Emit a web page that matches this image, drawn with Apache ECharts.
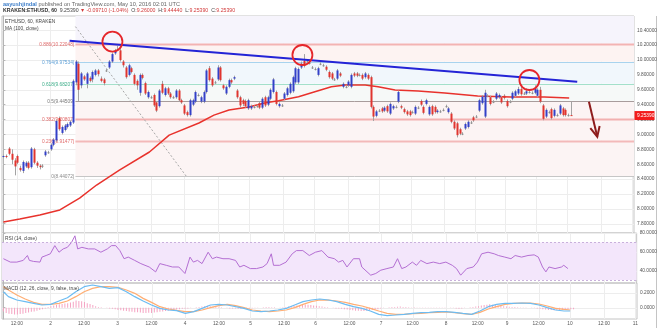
<!DOCTYPE html>
<html>
<head>
<meta charset="utf-8">
<script src="https://cdn.jsdelivr.net/npm/echarts@6/dist/echarts.min.js"></script>
<style>
  html, body { margin: 0; padding: 0; background: #fff; }
  #chart { width: 660px; height: 328px; }
</style>
</head>
<body>
<div id="chart"></div>
<script>
// ETH/USD hourly bars (Kraken), bar index -> [open, close, low, high]
const ohlc = [
  [8.70,8.71,8.68,8.73],[8.71,8.70,8.68,8.73],[8.81,8.74,8.72,8.83],[8.74,8.66,8.60,8.80],[8.65,8.57,8.45,8.68],
  [8.71,8.62,8.60,8.73],[8.55,8.52,8.50,8.58],[8.51,8.63,8.48,8.65],[8.57,8.62,8.55,8.64],[8.62,8.55,8.53,8.64],
  [8.56,8.81,8.54,8.83],[8.80,8.62,8.60,8.82],[8.62,8.58,8.55,8.64],[8.58,8.56,8.53,8.60],[8.58,8.58,8.55,8.60],
  [8.72,8.77,8.70,8.79],[8.76,8.76,8.74,8.78],[8.80,8.86,8.78,8.88],[8.86,8.93,8.84,8.95],[8.92,9.18,8.90,9.20],
  [9.22,9.07,9.05,9.24],[9.02,9.10,9.00,9.12],[9.06,9.12,9.04,9.14],[9.10,9.14,9.08,9.16],[9.12,9.17,9.10,9.19],
  [9.16,9.72,9.14,9.74],[9.70,9.98,9.66,10.00],[9.95,9.60,9.45,9.98],[9.66,9.82,9.62,9.84],[9.78,9.74,9.72,9.80],
  [9.68,9.82,9.62,9.84],[9.76,9.72,9.70,9.78],[9.74,9.84,9.70,9.86],[9.80,9.86,9.78,9.88],[9.86,9.81,9.78,9.88],
  [9.75,9.72,9.70,9.78],[9.74,9.69,9.66,9.76],[9.86,9.86,9.84,9.88],[9.90,9.98,9.88,10.00],[9.98,10.08,9.96,10.10],
  [10.09,10.13,10.07,10.15],[10.14,10.14,10.12,10.19],[10.13,10.00,9.98,10.17],[9.98,9.93,9.90,10.00],[9.90,9.77,9.75,9.92],
  [9.80,9.93,9.78,9.95],[9.89,9.84,9.82,9.91],[9.80,9.68,9.66,9.82],[9.72,9.66,9.60,9.74],[9.56,9.80,9.52,9.82],
  [9.80,9.76,9.74,9.82],[9.69,9.55,9.53,9.71],[9.50,9.57,9.48,9.59],[9.50,9.50,9.48,9.52],[9.53,9.39,9.37,9.55],
  [9.43,9.32,9.30,9.45],[9.38,9.59,9.36,9.61],[9.68,9.56,9.54,9.72],[9.53,9.62,9.51,9.64],[9.62,9.55,9.53,9.64],
  [9.55,9.50,9.48,9.57],[9.50,9.50,9.48,9.52],[9.50,9.59,9.48,9.61],[9.59,9.46,9.44,9.61],[9.46,9.43,9.41,9.48],
  [9.39,9.28,9.26,9.41],[9.30,9.26,9.24,9.32],[9.26,9.46,9.24,9.48],[9.40,9.46,9.38,9.48],[9.44,9.57,9.42,9.59],
  [9.53,9.53,9.51,9.55],[9.44,9.50,9.42,9.52],[9.44,9.57,9.42,9.59],[9.57,9.86,9.55,9.88],[9.89,9.73,9.71,9.92],
  [9.75,9.66,9.64,9.77],[9.70,9.70,9.68,9.72],[9.74,9.90,9.72,9.93],[9.90,9.73,9.71,9.92],[9.66,9.62,9.60,9.68],
  [9.55,9.64,9.53,9.66],[9.64,9.73,9.62,9.75],[9.73,9.70,9.68,9.75],[9.75,9.77,9.73,9.79],[9.59,9.50,9.48,9.61],
  [9.50,9.39,9.36,9.52],[9.46,9.41,9.38,9.48],[9.45,9.38,9.36,9.47],[9.35,9.46,9.33,9.48],[9.35,9.38,9.33,9.40],
  [9.37,9.37,9.35,9.39],[9.38,9.38,9.36,9.40],[9.42,9.36,9.34,9.44],[9.36,9.48,9.34,9.50],[9.50,9.39,9.37,9.52],
  [9.40,9.50,9.38,9.52],[9.48,9.60,9.46,9.62],[9.57,9.74,9.55,9.76],[9.57,9.41,9.39,9.59],[9.38,9.41,9.36,9.43],
  [9.39,9.39,9.37,9.41],[9.48,9.55,9.46,9.57],[9.53,9.62,9.51,9.64],[9.56,9.68,9.54,9.70],[9.58,9.77,9.56,9.79],
  [9.70,9.89,9.68,9.91],[9.70,9.88,9.68,9.90],[9.90,9.95,9.88,9.98],[9.99,9.92,9.90,10.08],[9.99,9.99,9.97,10.01],
  [9.96,9.96,9.94,9.98],[9.90,9.90,9.88,9.92],[9.88,9.88,9.86,9.90],[9.80,9.89,9.78,9.91],[9.95,9.95,9.93,9.97],
  [9.93,9.93,9.91,9.95],[9.91,9.87,9.85,9.93],[9.84,9.77,9.75,9.86],[9.82,9.75,9.73,9.84],[9.74,9.74,9.72,9.76],
  [9.75,9.86,9.73,9.88],[9.82,9.79,9.77,9.84],[9.64,9.68,9.62,9.70],[9.64,9.64,9.62,9.66],[9.66,9.71,9.64,9.73],
  [9.64,9.80,9.62,9.82],[9.82,9.79,9.77,9.84],[9.82,9.79,9.77,9.84],[9.80,9.80,9.78,9.82],[9.80,9.75,9.73,9.82],
  [9.77,9.82,9.75,9.84],[9.80,9.75,9.73,9.82],[9.77,9.37,9.35,9.79],[9.37,9.24,9.18,9.39],[9.25,9.31,9.23,9.33],
  [9.32,9.32,9.30,9.34],[9.35,9.31,9.29,9.37],[9.32,9.36,9.30,9.38],[9.38,9.31,9.29,9.40],[9.28,9.41,9.26,9.43],
  [9.35,9.38,9.33,9.40],[9.37,9.37,9.35,9.39],[9.44,9.57,9.42,9.59],[9.38,9.36,9.34,9.40],[9.34,9.30,9.28,9.36],
  [9.31,9.27,9.25,9.33],[9.31,9.26,9.24,9.33],[9.30,9.30,9.28,9.32],[9.28,9.37,9.26,9.39],[9.36,9.36,9.34,9.38],
  [9.45,9.40,9.38,9.47],[9.37,9.29,9.27,9.39],[9.41,9.46,9.39,9.48],[9.27,9.37,9.25,9.39],[9.38,9.27,9.25,9.40],
  [9.37,9.30,9.28,9.39],[9.30,9.32,9.28,9.34],[9.31,9.31,9.29,9.33],[9.33,9.33,9.31,9.35],[9.38,9.38,9.36,9.40],
  [9.30,9.35,9.28,9.37],[9.28,9.17,9.15,9.30],[9.17,9.08,9.06,9.19],[9.15,8.99,8.96,9.17],[9.07,9.01,8.99,9.09],
  [9.01,9.01,8.99,9.03],[9.08,9.14,9.06,9.16],[9.10,9.17,9.08,9.19],[9.16,9.16,9.14,9.18],[9.23,9.19,9.17,9.25],
  [9.24,9.24,9.22,9.26],[9.32,9.46,9.30,9.48],[9.42,9.51,9.40,9.53],[9.24,9.56,9.22,9.60],[9.52,9.52,9.50,9.54],
  [9.50,9.41,9.39,9.52],[9.44,9.44,9.42,9.46],[9.48,9.55,9.46,9.57],[9.50,9.53,9.48,9.55],[9.50,9.43,9.41,9.52],
  [9.52,9.49,9.47,9.54],[9.45,9.38,9.36,9.47],[9.44,9.44,9.42,9.46],[9.48,9.56,9.46,9.58],[9.52,9.58,9.50,9.60],
  [9.55,9.61,9.53,9.64],[9.61,9.54,9.52,9.66],[9.55,9.55,9.53,9.57],[9.55,9.58,9.53,9.62],[9.57,9.57,9.55,9.60],
  [9.56,9.56,9.54,9.58],[9.56,9.62,9.54,9.66],[9.52,9.60,9.50,9.62],[9.60,9.44,9.42,9.64],[9.39,9.21,9.19,9.41],
  [9.24,9.33,9.22,9.35],[9.30,9.30,9.28,9.32],[9.34,9.22,9.20,9.36],[9.25,9.33,9.23,9.35],[9.26,9.26,9.24,9.28],
  [9.28,9.39,9.26,9.41],[9.35,9.26,9.24,9.37],[9.33,9.26,9.24,9.35],[9.26,9.26,9.24,9.28],[9.26,9.2539,9.2539,9.4444]
];

// 100-period moving average, [bar index, value]
const maPoints = [
  [0,7.823],[5.9,7.863],[13.1,7.918],[20.3,7.985],[27.4,8.145],[33.5,8.32],[41.7,8.52],[52.5,8.764],
  [59.6,8.99],[70.3,9.154],[75.7,9.26],[81.1,9.329],[88.2,9.37],[94.3,9.426],[98.9,9.452],[106.1,9.507],
  [110.8,9.56],[117.9,9.64],[122.9,9.665],[130.1,9.665],[134.7,9.64],[140.8,9.597],[149.1,9.584],
  [158.7,9.557],[170.5,9.517],[182.3,9.503],[194.5,9.503],[203.4,9.49]
];

// RSI(14), [bar index, value]
const rsiPoints = [
  [0,52.7],[0.3,52.7],[2.5,49.1],[4.8,49.1],[7.1,50.9],[8.6,56.1],[9.3,50.9],[10.8,49.8],[13.1,49.1],
  [13.8,54.4],[15.3,56.1],[16.8,57.9],[18.4,66.6],[19.9,59.6],[21.4,63.1],[22.9,64.8],[24.4,70],[25.6,77],
  [26.6,63.1],[28.1,64.8],[30.4,63.1],[32.7,63.1],[34.9,59.6],[37.2,63.1],[38.7,66.6],[40.2,66.6],[41.7,61.3],
  [43.2,52.7],[44.7,54.4],[47.0,50.9],[49.2,47.5],[50.7,45.7],[52.2,43.9],[54.5,38.7],[56.0,47.5],[58.3,45.7],
  [60.5,43.9],[62.8,43.9],[65.0,37],[66.8,54.4],[68.0,49.1],[69.5,50.9],[71.1,47.5],[73.3,59.6],[74.8,52.7],
  [76.3,54.4],[78.6,52.7],[80.8,52.7],[83.1,50.9],[84.6,43.9],[86.1,45.7],[88.4,42.2],[90.6,42.2],[92.9,43.9],
  [94.4,47.5],[95.9,57.9],[96.7,45.7],[98.9,45.7],[101.2,49.1],[103.4,57.9],[104.9,61.3],[107.2,61.3],
  [109.5,56.1],[111.7,59.6],[114.0,61.3],[116.2,54.4],[118.5,52.7],[120.0,49.1],[121.5,50.9],[123.0,43.9],
  [125.3,52.7],[127.5,52.7],[128.3,43.9],[131.5,35.2],[133.3,37],[135.1,40.5],[137.3,42.2],[139.6,43.9],
  [141.1,52.7],[142.6,42.2],[144.1,43.9],[146.4,49.1],[147.9,45.7],[149.4,50.9],[151.6,47.5],[153.9,49.1],
  [156.2,47.5],[158.4,49.1],[160.7,45.7],[162.2,42.2],[163.7,35.2],[165.9,42.2],[168.2,43.9],[169.7,49.1],
  [171.2,57.9],[173.5,59.6],[175.7,57.9],[177.2,56.1],[179.5,54.4],[181.7,52.7],[183.2,56.1],[185.5,54.4],
  [187.8,56.1],[190.0,56.8],[191.5,54.4],[193.0,43.9],[194.2,38.7],[195.3,43.9],[197.5,42.2],[199.8,43.9],
  [200.6,45.7],[202.1,42.2]
];

// MACD(12, 26, 9): sample bar positions with MACD and signal values
const macdIdx = [
  0,1.8,4.8,7.8,10.8,13.8,16.9,19.9,22.9,25.9,28.9,31.9,34.9,37.9,41.0,44.0,47.0,50.0,53.0,56.0,
  59.0,62.0,65.1,68.1,71.1,74.1,77.1,80.1,83.1,86.1,89.1,92.2,95.2,98.2,101.2,104.2,107.2,110.2,113.2,
  116.3,119.3,122.3,125.3,128.3,131.3,134.3,137.3,140.4,143.4,146.4,149.4,152.4,155.4,158.4,161.4,164.4,
  167.5,170.5,173.5,176.5,179.5,182.5,185.5,188.6,191.6,194.6,197.6,200.6,202.8
];
const macdLine = [
  0.213,0.147,0.102,0.080,0.058,0.036,0.044,0.089,0.133,0.213,0.280,0.302,0.280,0.258,0.267,0.213,0.147,
  0.089,0.036,-0.009,-0.031,-0.040,-0.076,-0.053,-0.009,0.036,0.044,0.036,0.013,-0.009,-0.044,-0.053,
  -0.044,-0.031,-0.009,0.036,0.080,0.102,0.116,0.102,0.080,0.044,0.013,-0.009,-0.044,-0.089,-0.107,
  -0.098,-0.089,-0.076,-0.067,-0.062,-0.053,-0.053,-0.062,-0.076,-0.089,-0.044,0.013,0.044,0.058,0.058,
  0.062,0.058,0.036,0.000,-0.031,-0.044,-0.044
];
const signalLine = [
  0.280,0.236,0.169,0.116,0.071,0.044,0.044,0.058,0.089,0.147,0.213,0.258,0.280,0.280,0.271,0.236,0.191,
  0.124,0.071,0.013,-0.018,-0.036,-0.053,-0.053,-0.031,0.000,0.027,0.044,0.027,0.000,-0.031,-0.044,
  -0.053,-0.044,-0.031,0.000,0.044,0.080,0.102,0.102,0.089,0.071,0.044,0.022,-0.009,-0.044,-0.076,
  -0.089,-0.089,-0.080,-0.076,-0.067,-0.062,-0.058,-0.067,-0.080,-0.089,-0.062,-0.018,0.013,0.044,0.058,
  0.062,0.062,0.049,0.022,-0.009,-0.022,-0.031
];
// MACD histogram, one value per bar
const macdHist = [
  -0.05,-0.07,-0.08,-0.085,-0.09,-0.09,-0.085,-0.08,-0.07,-0.065,-0.055,-0.05,-0.04,-0.03,-0.02,-0.01,
  0.01,0.02,0.03,0.04,0.045,0.05,0.055,0.06,0.07,0.08,0.095,0.09,0.085,0.075,0.06,0.05,0.035,0.02,0.01,
  0.005,0,-0.005,-0.01,-0.015,-0.02,-0.03,-0.035,-0.04,-0.045,-0.05,-0.055,-0.06,-0.062,-0.065,-0.07,
  -0.07,-0.068,-0.07,-0.065,-0.06,-0.055,-0.05,-0.045,-0.04,-0.035,-0.03,-0.025,-0.02,-0.015,-0.015,
  -0.01,-0.005,0,0.005,0.01,0.015,0.02,0.025,0.02,0.015,0.01,0.005,0.005,0,-0.005,-0.01,-0.01,-0.012,
  -0.015,-0.015,-0.012,-0.01,-0.01,-0.008,-0.005,-0.005,0,0.005,0.01,0.008,0.005,0.005,0,-0.005,0.005,
  0.01,0.015,0.02,0.025,0.03,0.035,0.04,0.042,0.04,0.035,0.03,0.025,0.02,0.015,0.01,0.005,0,-0.005,-0.01,
  -0.012,-0.015,-0.02,-0.025,-0.03,-0.035,-0.04,-0.042,-0.045,-0.045,-0.04,-0.035,-0.03,-0.025,-0.02,
  -0.01,-0.005,0,0.005,0.008,0.01,0.012,0.015,0.01,0.008,0.005,0.003,0.005,0.003,0.002,0.004,0.003,
  0.002,0.003,0.002,0.001,0.002,0.003,0.002,0,-0.003,-0.005,-0.01,-0.015,-0.01,-0.005,0,0.005,0.01,
  0.015,0.02,0.03,0.035,0.04,0.045,0.04,0.035,0.03,0.025,0.02,0.015,0.012,0.01,0.008,0.005,0.004,0.003,
  0.002,0,-0.003,-0.005,-0.01,-0.015,-0.02,-0.025,-0.03,-0.032,-0.035,-0.035,-0.033,-0.03,-0.028,
  -0.025,-0.022,-0.02
];

// Fibonacci retracement levels and prices
const fibRatios = ['0', '0.236', '0.382', '0.5', '0.618', '0.764', '0.886'];
const fibPrices = [8.44072, 8.91477, 9.20807, 9.44509, 9.68207, 9.97534, 10.22048];
const fibAnchor = [[25.9, 10.44946], [65.7, 8.44072]];

// Drawings: resistance line, highlighted touches, expected move
const trendLine = [[23.8, 10.26], [206.3, 9.709]];
const touchPoints = [[39.2, 10.247], [107.5, 10.068], [189.1, 9.732]];
const moveArrow = [[210.5, 9.44], [213.5, 8.97]];
const lastPrice = 9.2539;

// Axis ticks
const priceTicks = [7.8, 8.0, 8.2, 8.4, 8.6, 8.8, 9.0, 9.2, 9.4, 9.6, 9.8, 10.0, 10.2, 10.4];
const rsiTicks = [40, 60, 80];
const macdTicks = [0, 0.2];
const timeTicks = [4.8, 16.85, 28.8, 40.9, 53.0, 65.0, 77.1, 88.4, 100.4, 111.7, 123.8, 135.1, 146.4,
  158.4, 169.7, 180.2, 191.5, 202.7, 214.9, 226.1];
const timeLabels = ['12:00', '2', '12:00', '3', '12:00', '4', '12:00', '5', '12:00', '6', '12:00', '7',
  '12:00', '8', '12:00', '9', '12:00', '10', '12:00', '11'];

// ---- layout / style ----
const FONT = 'Liberation Sans, Arial, sans-serif';
const X_MIN = -0.5, X_MAX = 226.7;
const Y_MIN = 7.675, Y_MAX = 10.592;
const RSI_MIN = 26.9, RSI_MAX = 80;
const MACD_MIN = -0.151, MACD_MAX = 0.329;
const UP = '#3340c8', DOWN = '#e0352f', DOJI = '#8a8a8a', WICK = '#a3a3a3';
const GRID_C = '#ededed';
const AXIS_TXT = '#555';

const fibFill = ['#fcf4f4', '#fcf4f4', '#fcf4f4', '#f6f9f8', '#f1f7fc', '#fdf3f2', '#f6f4fc'];
const fibLine = ['#c6c6c6', '#f3b9b9', '#f2b0b0', '#a89c9c', '#a3e0ca', '#a8d3ee', '#f3b3b3'];
const fibLineW = [1, 2, 2, 1, 1, 1, 2];
const fibText = ['#8a8a8a', '#e06a6a', '#e06a6a', '#7a7a7a', '#3eae8a', '#5a9ed6', '#e06a6a'];

const chart = echarts.init(document.getElementById('chart'), null, { renderer: 'canvas' });

function gridLines(ai, yLo, yHi, hVals) {
  const items = timeTicks.map(t => [t, 0]).concat(hVals.map(h => [h, 1]));
  return {
    type: 'custom', xAxisIndex: ai, yAxisIndex: ai, silent: true, z: 0, data: items,
    renderItem(params, api) {
      const v = api.value(0), kind = api.value(1);
      if (kind === 0) {
        const a = api.coord([v, yLo]), b = api.coord([v, yHi]);
        const x = Math.round(a[0]) + 0.5;
        return { type: 'line', shape: { x1: x, y1: a[1], x2: x, y2: b[1] }, style: { stroke: GRID_C, lineWidth: 1 } };
      }
      const a = api.coord([X_MIN, v]), b = api.coord([X_MAX, v]);
      const y = Math.round(a[1]) + 0.5;
      return { type: 'line', shape: { x1: a[0], y1: y, x2: b[0], y2: y }, style: { stroke: GRID_C, lineWidth: 1 } };
    }
  };
}

function xAxisFor(gi, withLabels) {
  return {
    type: 'value', gridIndex: gi, min: X_MIN, max: X_MAX,
    axisLine: { show: false }, axisTick: { show: false }, splitLine: { show: false },
    axisLabel: withLabels ? {
      show: true, customValues: timeTicks, fontSize: 4.8, color: AXIS_TXT, fontFamily: FONT, margin: 2,
      formatter: v => {
        let best = 0;
        timeTicks.forEach((t, k) => { if (Math.abs(t - v) < Math.abs(timeTicks[best] - v)) best = k; });
        return timeLabels[best];
      }
    } : { show: false }
  };
}

function yAxisFor(gi, min, max, ticks, digits) {
  return {
    type: 'value', gridIndex: gi, position: 'right', min, max,
    axisLine: { show: true, lineStyle: { color: '#b5b5b5' } },
    axisTick: { show: true, length: 2, customValues: ticks, lineStyle: { color: '#b5b5b5' } },
    axisLabel: { customValues: ticks, formatter: v => v.toFixed(digits), fontSize: 4.8,
      color: AXIS_TXT, fontFamily: FONT, margin: 3 },
    splitLine: { show: false }
  };
}

const option = {
  animation: false,
  backgroundColor: '#ffffff',
  grid: [
    { left: 2, right: 23, top: 16, height: 217, show: true, borderColor: '#c4c4c4', borderWidth: 1 },
    { left: 2, right: 23, top: 233, height: 50, show: true, borderColor: '#c4c4c4', borderWidth: 1 },
    { left: 2, right: 23, top: 283, height: 36, show: true, borderColor: '#c4c4c4', borderWidth: 1 }
  ],
  xAxis: [xAxisFor(0, false), xAxisFor(1, false), xAxisFor(2, true)],
  yAxis: [
    yAxisFor(0, Y_MIN, Y_MAX, priceTicks, 5),
    yAxisFor(1, RSI_MIN, RSI_MAX, rsiTicks, 4),
    yAxisFor(2, MACD_MIN, MACD_MAX, macdTicks, 4)
  ],
  graphic: [
    { type: 'text', left: 3, top: 1, silent: true, style: {
      text: '{a|aayushjindal} published on TradingView.com, May 10, 2016 02:01 UTC',
      fill: '#666', fontSize: 5.6, fontFamily: FONT,
      rich: { a: { fill: '#3f7fca', fontWeight: 'bold', fontSize: 5.6, fontFamily: FONT } } } },
    { type: 'text', left: 3, top: 8, silent: true, style: {
      text: '{b|KRAKEN:ETHUSD, 60}  {k|9.25390} {r|\u25BC -0.09710 (-1.04%)}  {k|O:}{r|9.26000}  {k|H:}{r|9.44440}  {k|L:}{r|9.25390}  {k|C:}{r|9.25390}',
      fill: '#333', fontSize: 5.2, fontFamily: FONT,
      rich: {
        b: { fill: '#333', fontWeight: 'bold', fontSize: 5.2, fontFamily: FONT },
        k: { fill: '#444', fontSize: 5.2, fontFamily: FONT },
        r: { fill: '#d23a3a', fontSize: 5.2, fontFamily: FONT }
      } } },
    { type: 'text', left: 5, top: 19, silent: true, z: 50, style: { text: 'ETHUSD, 60, KRAKEN', fill: '#444', fontSize: 4.8, fontFamily: FONT } },
    { type: 'text', left: 5, top: 26, silent: true, z: 50, style: { text: 'MA (100, close)', fill: '#444', fontSize: 4.8, fontFamily: FONT } },
    { type: 'text', left: 5, top: 236, silent: true, z: 50, style: { text: 'RSI (14, close)', fill: '#444', fontSize: 4.8, fontFamily: FONT } },
    { type: 'text', left: 4, top: 286, silent: true, z: 50, style: { text: 'MACD (12, 26, close, 9, false, true)', fill: '#444', fontSize: 4.8, fontFamily: FONT } },
    { type: 'line', silent: true, shape: { x1: 656.5, y1: 16, x2: 656.5, y2: 328 }, style: { stroke: '#c4c4c4', lineWidth: 1 } }
  ],
  series: [
    gridLines(0, Y_MIN, Y_MAX, priceTicks),
    gridLines(1, RSI_MIN, RSI_MAX, rsiTicks),
    gridLines(2, MACD_MIN, MACD_MAX, macdTicks),

    // Fibonacci retracement bands, level lines and labels
    {
      type: 'custom', xAxisIndex: 0, yAxisIndex: 0, silent: true, z: 1,
      data: fibPrices.map((p, k) => [k]),
      renderItem(params, api) {
        const k = api.value(0);
        const lo = fibPrices[k];
        const hi = k + 1 < fibPrices.length ? fibPrices[k + 1] : Y_MAX;
        const pLo = api.coord([fibAnchor[0][0], lo]);
        const pHi = api.coord([fibAnchor[0][0], hi]);
        const right = api.coord([X_MAX, lo])[0];
        const yl = Math.round(pLo[1]) + 0.5;
        return {
          type: 'group', children: [
            { type: 'rect', shape: { x: pLo[0], y: pHi[1], width: right - pLo[0], height: pLo[1] - pHi[1] }, style: { fill: fibFill[k] } },
            { type: 'line', shape: { x1: pLo[0], y1: yl, x2: right, y2: yl }, style: { stroke: fibLine[k], lineWidth: fibLineW[k] } },
            { type: 'text', x: pLo[0] - 1, y: yl, style: {
              text: fibRatios[k] + '(' + fibPrices[k].toFixed(5) + ')', fill: fibText[k],
              fontSize: 4.8, fontFamily: FONT, align: 'right', verticalAlign: 'middle' } }
          ]
        };
      }
    },

    // retracement diagonal
    {
      type: 'line', xAxisIndex: 0, yAxisIndex: 0, data: fibAnchor, symbol: 'none', silent: true, z: 2,
      lineStyle: { color: '#a8a8a8', width: 1, type: [2, 2] }
    },

    // MA(100)
    {
      type: 'line', xAxisIndex: 0, yAxisIndex: 0, data: maPoints, symbol: 'none', silent: true, z: 2,
      lineStyle: { color: '#e8322c', width: 1.5 }
    },

    // candles
    {
      type: 'custom', xAxisIndex: 0, yAxisIndex: 0, silent: true, z: 3, clip: true,
      data: ohlc.map((d, i) => [i, d[0], d[1], d[2], d[3]]),
      renderItem(params, api) {
        const i = api.value(0), o = api.value(1), c = api.value(2), l = api.value(3), h = api.value(4);
        const pO = api.coord([i, o]), pC = api.coord([i, c]);
        const pL = api.coord([i, l]), pH = api.coord([i, h]);
        const x = Math.round(pO[0]);
        const top = Math.min(pO[1], pC[1]);
        const hgt = Math.max(1, Math.abs(pO[1] - pC[1]));
        const col = c > o ? UP : (c < o ? DOWN : DOJI);
        return {
          type: 'group', children: [
            { type: 'line', shape: { x1: x + 0.5, y1: pH[1], x2: x + 0.5, y2: pL[1] }, style: { stroke: WICK, lineWidth: 1 } },
            { type: 'rect', shape: { x: x - 0.5, y: top, width: 2, height: hgt }, style: { fill: col } }
          ]
        };
      }
    },

    // resistance trend line
    {
      type: 'line', xAxisIndex: 0, yAxisIndex: 0, data: trendLine, symbol: 'none', silent: true, z: 4,
      lineStyle: { color: '#2424d6', width: 2 }
    },

    // highlighted touches of the resistance line
    {
      type: 'custom', xAxisIndex: 0, yAxisIndex: 0, silent: true, z: 5,
      data: touchPoints,
      renderItem(params, api) {
        const p = api.coord([api.value(0), api.value(1)]);
        return { type: 'circle', shape: { cx: p[0], cy: p[1], r: 10 }, style: { fill: null, stroke: '#e5262b', lineWidth: 1.8 } };
      }
    },

    // expected-move arrow
    {
      type: 'custom', xAxisIndex: 0, yAxisIndex: 0, silent: true, z: 5,
      data: [[moveArrow[0][0], moveArrow[0][1]]],
      renderItem(params, api) {
        const a = api.coord(moveArrow[0]), b = api.coord(moveArrow[1]);
        const ang = Math.atan2(b[1] - a[1], b[0] - a[0]);
        const len = 11, spread = 0.45;
        const h1 = [b[0] - len * Math.cos(ang - spread), b[1] - len * Math.sin(ang - spread)];
        const h2 = [b[0] - len * Math.cos(ang + spread), b[1] - len * Math.sin(ang + spread)];
        return {
          type: 'group', children: [
            { type: 'line', shape: { x1: a[0], y1: a[1], x2: b[0], y2: b[1] }, style: { stroke: '#8e1c1c', lineWidth: 2 } },
            { type: 'polyline', shape: { points: [h1, b, h2] }, style: { stroke: '#8e1c1c', lineWidth: 2, fill: null } }
          ]
        };
      }
    },

    // last price tag on the price scale
    {
      type: 'custom', xAxisIndex: 0, yAxisIndex: 0, silent: true, z: 10, clip: false,
      data: [[X_MAX, lastPrice]],
      renderItem(params, api) {
        const p = api.coord([api.value(0), api.value(1)]);
        return {
          type: 'group', children: [
            { type: 'rect', shape: { x: p[0] + 0.5, y: p[1] - 4.5, width: 20, height: 9 }, style: { fill: '#f21c1c' } },
            { type: 'text', x: p[0] + 3, y: p[1], style: { text: lastPrice.toFixed(5), fill: '#fff', fontSize: 4.8,
              fontFamily: FONT, verticalAlign: 'middle' } }
          ]
        };
      }
    },

    // RSI pane
    {
      type: 'line', xAxisIndex: 1, yAxisIndex: 1, data: rsiPoints, symbol: 'none', silent: true, z: 3,
      lineStyle: { color: '#b46fd3', width: 1 },
      markArea: { silent: true, itemStyle: { color: '#f3e6fb' }, data: [[{ yAxis: 70 }, { yAxis: 30 }]] },
      markLine: { silent: true, symbol: 'none', label: { show: false },
        lineStyle: { color: '#c9b0dc', width: 1, type: [2, 2] }, data: [{ yAxis: 70 }, { yAxis: 30 }] }
    },

    // MACD pane
    {
      type: 'bar', xAxisIndex: 2, yAxisIndex: 2, silent: true, z: 2, barWidth: 1,
      data: macdHist.map((v, i) => [i, v]), itemStyle: { color: '#f5a3c2' }
    },
    {
      type: 'line', xAxisIndex: 2, yAxisIndex: 2, silent: true, z: 3, symbol: 'none',
      data: macdIdx.map((x, k) => [x, signalLine[k]]), lineStyle: { color: '#ffae73', width: 1.2 }
    },
    {
      type: 'line', xAxisIndex: 2, yAxisIndex: 2, silent: true, z: 4, symbol: 'none',
      data: macdIdx.map((x, k) => [x, macdLine[k]]), lineStyle: { color: '#6cbcf2', width: 1.2 }
    }
  ]
};

chart.setOption(option);
</script>
</body>
</html>
